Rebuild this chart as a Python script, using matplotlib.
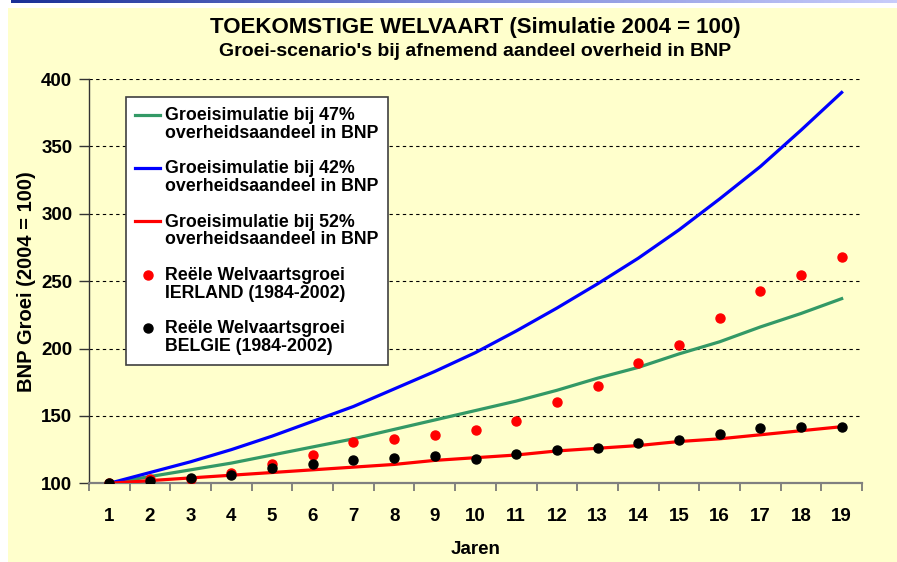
import numpy as np
import matplotlib
matplotlib.use("Agg")
import matplotlib.pyplot as plt
from matplotlib.patches import Rectangle
from matplotlib.colors import LinearSegmentedColormap

plt.rcParams['font.family'] = ['Liberation Sans', 'DejaVu Sans']
plt.rcParams['font.weight'] = 'bold'

# data
jaren = list(range(1, 20))
sim_47 = [100, 105, 110, 115, 121, 127, 133, 140, 147, 154, 161, 169, 178, 186, 196, 205, 216, 226, 237]
sim_42 = [100, 108, 116, 125, 135, 146, 157, 170, 183, 197, 213, 230, 248, 267, 288, 311, 335, 362, 390]
sim_52 = [100, 102, 104, 106, 108, 110, 112, 114, 117, 119, 121, 124, 126, 128, 131, 133, 136, 139, 142]
ierland = [100, 103, 103, 108, 114, 121, 131, 133, 136, 139.5, 146, 160, 172, 189.5, 202.5, 223, 242.5, 254.5, 268]
belgie = [100, 102, 104, 106, 111, 114, 117, 119, 120, 118, 122, 124.5, 126, 130, 132, 136.5, 141, 142, 142]

labels = ["Groeisimulatie bij 47%\noverheidsaandeel in BNP",
          "Groeisimulatie bij 42%\noverheidsaandeel in BNP",
          "Groeisimulatie bij 52%\noverheidsaandeel in BNP",
          "Reële Welvaartsgroei\nIERLAND (1984-2002)",
          "Reële Welvaartsgroei\nBELGIE (1984-2002)"]

W, H = 897, 562
fig = plt.figure(figsize=(W / 100, H / 100), dpi=100, facecolor='white')

# yellow slide panel + blue bar on top
fig.add_artist(Rectangle((8 / W, 0), 1 - 8 / W, 1 - 8 / H, transform=fig.transFigure,
                         facecolor='#FFFFCC', edgecolor='none', zorder=0))
bar = fig.add_axes([11 / W, 1 - 3 / H, 1 - 11 / W, 3 / H])
grad = np.linspace(0, 1, 256).reshape(1, -1)
cmap = LinearSegmentedColormap.from_list('bar', ['#1A3096', '#7C88D8', '#C8CCFA'])
bar.imshow(grad, aspect='auto', cmap=cmap)
bar.axis('off')

ax = fig.add_axes([89 / W, 1 - 483.3 / H, (862 - 89) / W, (483.3 - 79) / H])
ax.set_facecolor('#FFFFCC')

ax.plot(jaren, sim_47, color='#339966', lw=2.3, label=labels[0], zorder=3)
ax.plot(jaren, sim_42, color='#0000FF', lw=2.3, label=labels[1], zorder=3)
ax.plot(jaren, sim_52, color='#FF0000', lw=2.3, label=labels[2], zorder=3)
ax.plot(jaren, ierland, 'o', color='#FF0000', ms=6.5, label=labels[3], zorder=4)
ax.plot(jaren, belgie, 'o', color='black', ms=6.5, label=labels[4], zorder=5)

ax.set_xlim(0.5, 19.5)
ax.set_ylim(100, 400)
ax.set_xticks(jaren)
ax.set_xticks(np.arange(0.5, 20, 1), minor=True)
ax.tick_params(axis='x', which='major', length=0, pad=18, labelsize=13.5)
ax.tick_params(axis='x', which='minor', length=6, width=1.2, color='#707070', direction='out')
ax.set_yticks(range(100, 401, 50))
ax.tick_params(axis='y', length=7, width=1, color='#333333', pad=5, labelsize=13.5)

for s in ['top', 'right']:
    ax.spines[s].set_visible(False)
ax.spines['bottom'].set_color('#808080')
ax.spines['bottom'].set_linewidth(1.6)
ax.spines['left'].set_color('#333333')
ax.spines['left'].set_linewidth(1)
ax.yaxis.grid(True, linestyle=(0, (3, 3)), color='black', lw=0.8)
ax.set_axisbelow(True)

ax.set_xlabel('Jaren', fontsize=13.5, fontweight='bold', labelpad=11)
ax.set_ylabel('BNP Groei (2004 = 100)', fontsize=14.5, fontweight='bold', labelpad=4)

fig.text(475 / W, 1 - 27 / H, 'TOEKOMSTIGE WELVAART (Simulatie 2004 = 100)', ha='center', va='center',
         fontsize=16, fontweight='bold')
fig.text(475 / W, 1 - 52 / H, "Groei-scenario's bij afnemend aandeel overheid in BNP", ha='center', va='center',
         fontsize=14, fontweight='bold')

leg = ax.legend(loc='upper left', bbox_to_anchor=(0.0475, 0.955), borderaxespad=0,
                fontsize=12.8, fancybox=False, framealpha=1, edgecolor='#404040',
                handlelength=1.4, handletextpad=0.25, labelspacing=1.05, borderpad=0.55)
leg.get_frame().set_linewidth(1.2)
for t in leg.get_texts():
    t.set_linespacing(1.05)
# put legend keys next to the first text line
for h in leg.legend_handles:
    h.set_ydata(np.asarray(h.get_ydata()) + 7.0)

fig.savefig('out.png', dpi=100, facecolor='white')
